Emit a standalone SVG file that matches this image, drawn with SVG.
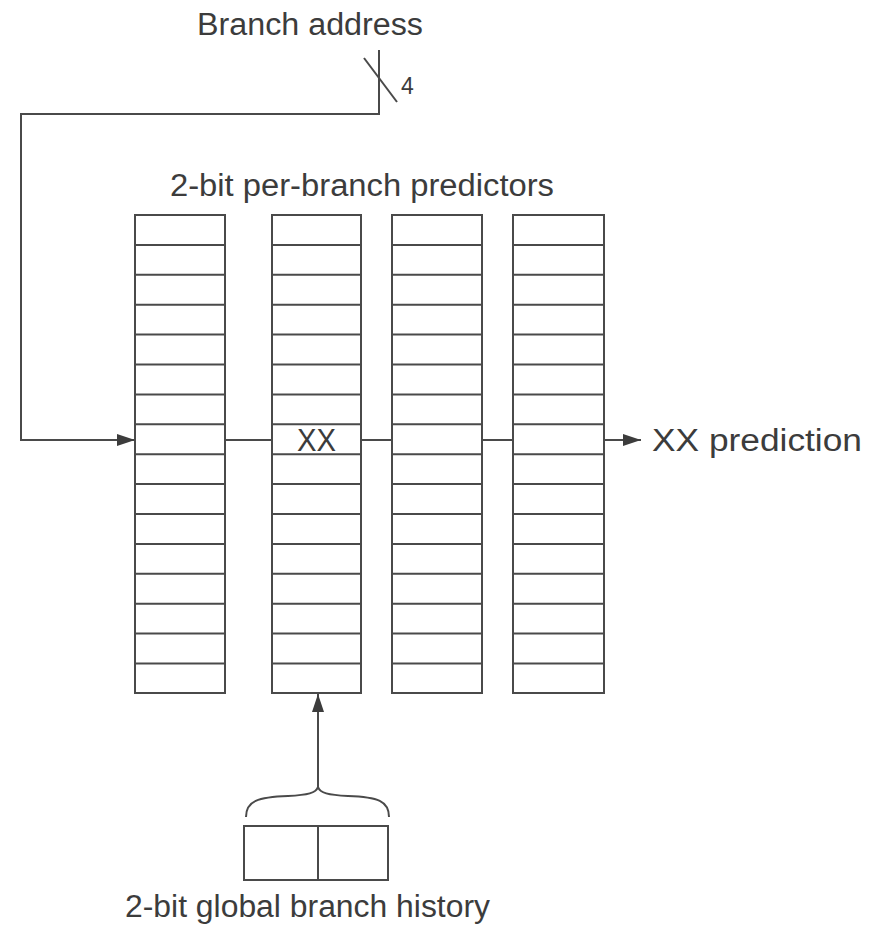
<svg xmlns="http://www.w3.org/2000/svg" width="881" height="928" viewBox="0 0 881 928">
<defs>
<style>
.ln{stroke:#4a4a4a;stroke-width:2;fill:none}
.bx{stroke:#4a4a4a;stroke-width:2;fill:none}
.t{font-family:"Liberation Sans",Arial,sans-serif;font-size:31px;fill:#3c3c3c}
.s{font-family:"Liberation Sans",Arial,sans-serif;font-size:23px;fill:#3c3c3c}
</style>
<marker id="ah" viewBox="0 0 18 12" refX="18" refY="6" markerWidth="18" markerHeight="12" markerUnits="userSpaceOnUse" orient="auto">
<path d="M0,0 L18,6 L0,12 Z" fill="#3c3c3c"/>
</marker>
<g id="rows">
<path class="ln" d="M0,29.9H90M0,59.8H90M0,89.7H90M0,119.6H90M0,149.5H90M0,179.4H90M0,209.3H90M0,239.2H90M0,269.1H90M0,299H90M0,328.9H90M0,358.8H90M0,388.7H90M0,418.6H90M0,448.5H90"/>
</g>
</defs>
<rect width="881" height="928" fill="#ffffff"/>
<g id="title-address">
<text class="t" x="197" y="35" textLength="226" lengthAdjust="spacingAndGlyphs">Branch address</text>
<text class="s" x="401" y="94">4</text>
</g>
<g id="title-predictors">
<text class="t" x="170" y="196" textLength="384" lengthAdjust="spacingAndGlyphs">2-bit per-branch predictors</text>
</g>
<g id="col1">
<rect class="bx" x="135" y="215" width="90" height="478"/>
<use href="#rows" x="135" y="215"/>
</g>
<g id="col2">
<rect class="bx" x="272" y="215" width="89" height="478"/>
<use href="#rows" x="272" y="215" transform="translate(272 215) scale(0.989 1) translate(-272 -215)"/>
<text class="t" x="297" y="451" textLength="39" lengthAdjust="spacingAndGlyphs">XX</text>
</g>
<g id="col3">
<rect class="bx" x="392" y="215" width="90" height="478"/>
<use href="#rows" x="392" y="215"/>
</g>
<g id="col4">
<rect class="bx" x="513" y="215" width="91" height="478"/>
<use href="#rows" x="513" y="215"/>
</g>
<g id="history">
<rect class="bx" x="244" y="826" width="144" height="54"/>
<line class="ln" x1="318" y1="826" x2="318" y2="880"/>
<path class="ln" d="M246,817 C246,801 258,797 288,796 C308,795 316,793 318,787 C320,793 328,795 348,796 C378,797 389,801 389,817"/>
<text class="t" x="125" y="917" textLength="365" lengthAdjust="spacingAndGlyphs">2-bit global branch history</text>
</g>
<g id="output">
<text class="t" x="652" y="451" textLength="210" lengthAdjust="spacingAndGlyphs">XX prediction</text>
</g>
<g id="connectors">
<path class="ln" d="M379,50 V114 H21 V440 H135" marker-end="url(#ah)"/>
<line class="ln" x1="364" y1="58" x2="397" y2="102"/>
<line class="ln" x1="225" y1="440" x2="272" y2="440"/>
<line class="ln" x1="361" y1="440" x2="392" y2="440"/>
<line class="ln" x1="482" y1="440" x2="513" y2="440"/>
<line class="ln" x1="604" y1="440" x2="641" y2="440" marker-end="url(#ah)"/>
<line class="ln" x1="318" y1="787" x2="318" y2="694" marker-end="url(#ah)"/>
</g>
</svg>
